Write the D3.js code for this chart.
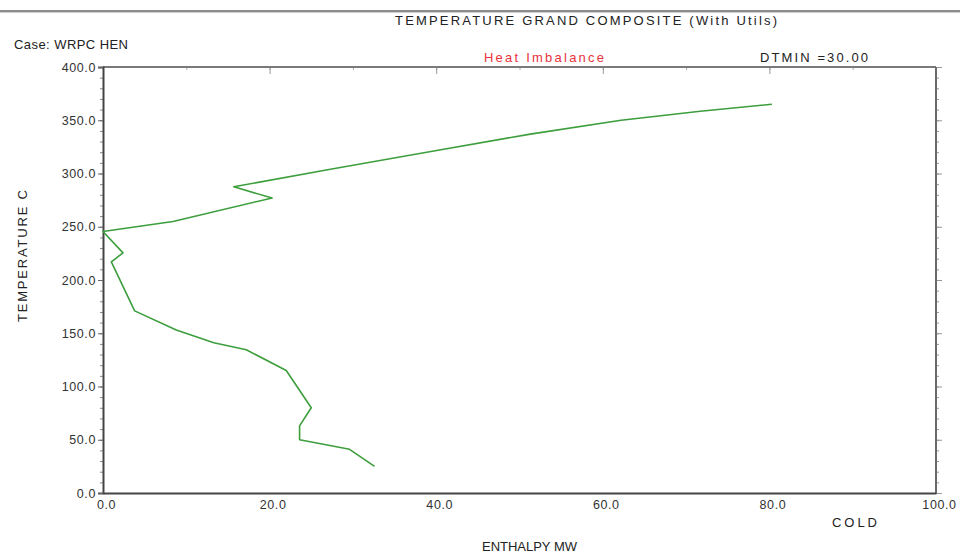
<!DOCTYPE html>
<html>
<head>
<meta charset="utf-8">
<script src="https://cdn.jsdelivr.net/npm/d3@7"></script>
<style>
  html, body { margin: 0; padding: 0; background: #ffffff; }
  svg { display: block; font-family: "Liberation Sans", Arial, sans-serif; }
</style>
</head>
<body>
<svg id="chart" width="960" height="553"></svg>
<script>
// ---- data ----
const enthalpy    = [80.3, 71.7, 62.2, 51.3, 39.2, 27.3, 15.7, 20.3, 8.4, 0.0, 2.4, 1.0, 3.8, 8.8, 13.3, 17.2, 22.0, 25.0, 23.6, 23.6, 29.6, 32.6];
const temperature = [365, 358.5, 350, 337, 320.5, 304, 287.5, 277, 255, 245.5, 225.5, 217, 171, 153, 141, 134.5, 115, 80, 63, 50, 41, 25];
const yTicks = [0, 50, 100, 150, 200, 250, 300, 350, 400];
const xTicks = [0, 20, 40, 60, 80, 100];
const titleText = "TEMPERATURE GRAND COMPOSITE (With Utils)";
const caseText = "Case: WRPC HEN";
const imbalanceText = "Heat Imbalance";
const dtminText = "DTMIN =30.00";
const xLabel = "ENTHALPY MW";
const yLabel = "TEMPERATURE C";
const sideLabel = "COLD";

const svg = d3.select("#chart");
const L = 103, R = 936, T = 67, B = 493;
const x = d3.scaleLinear().domain([0, 100]).range([L, R]);
const y = d3.scaleLinear().domain([0, 400]).range([B, T]);
const fmt = d3.format(".1f");

// window-like top rule
svg.append("rect").attr("x", 0).attr("y", 10).attr("width", 960).attr("height", 2).attr("fill", "#8c8c8c");
svg.append("rect").attr("x", 0).attr("y", 12).attr("width", 960).attr("height", 1).attr("fill", "#cfcfcf");

// minor ticks
const minorY = d3.range(0, 401, 10);
const minorX = d3.range(0, 101, 10);
svg.append("g").attr("transform", `translate(${L},0)`)
  .call(d3.axisLeft(y).tickValues(minorY).tickSize(3).tickFormat(""))
  .call(g => g.select(".domain").remove())
  .call(g => g.selectAll("line").attr("stroke", "#888"));
svg.append("g").attr("transform", `translate(${R},0)`)
  .call(d3.axisRight(y).tickValues(minorY).tickSize(3).tickFormat(""))
  .call(g => g.select(".domain").remove())
  .call(g => g.selectAll("line").attr("stroke", "#999"));
svg.append("g").attr("transform", `translate(${R},0)`)
  .call(d3.axisRight(y).tickValues(yTicks).tickSize(6).tickFormat(""))
  .call(g => g.select(".domain").remove())
  .call(g => g.selectAll("line").attr("stroke", "#999"));
svg.append("g").attr("transform", `translate(0,${T})`)
  .call(d3.axisBottom(x).tickValues(minorX).tickSize(3).tickFormat(""))
  .call(g => g.select(".domain").remove())
  .call(g => g.selectAll("line").attr("stroke", "#aaa"));
svg.append("g").attr("transform", `translate(0,${T})`)
  .call(d3.axisBottom(x).tickValues(xTicks).tickSize(7).tickFormat(""))
  .call(g => g.select(".domain").remove())
  .call(g => g.selectAll("line").attr("stroke", "#999"));

// frame
svg.append("line").attr("x1", L).attr("x2", R).attr("y1", T).attr("y2", T).attr("stroke", "#7a7a7a").attr("stroke-width", 2);
svg.append("line").attr("x1", R).attr("x2", R).attr("y1", T).attr("y2", B).attr("stroke", "#6a6a6a").attr("stroke-width", 2);

// left axis
svg.append("g").attr("transform", `translate(${L},0)`)
  .call(d3.axisLeft(y).tickValues(yTicks).tickFormat(fmt).tickSize(5).tickPadding(2))
  .call(g => g.select(".domain").attr("stroke", "#444").attr("stroke-width", 2))
  .call(g => g.selectAll("line").attr("stroke", "#666"))
  .call(g => g.selectAll("text").attr("font-size", 12.5).attr("fill", "#333")
    .attr("letter-spacing", 0.6).attr("font-family", "Liberation Sans, Arial, sans-serif"));

// bottom axis
svg.append("g").attr("transform", `translate(0,${B})`)
  .call(d3.axisBottom(x).tickValues(xTicks).tickFormat(fmt).tickSize(0).tickPadding(7))
  .call(g => g.select(".domain").attr("stroke", "#444").attr("stroke-width", 2))
  .call(g => g.selectAll("text").attr("font-size", 12.5).attr("fill", "#333")
    .attr("letter-spacing", 0.6).attr("dx", 3).attr("font-family", "Liberation Sans, Arial, sans-serif"));

// texts
function label(txt, xx, yy, opts) {
  const t = svg.append("text").attr("x", xx).attr("y", yy).text(txt)
    .attr("font-size", opts.size || 13).attr("fill", opts.fill || "#222");
  if (opts.anchor) t.attr("text-anchor", opts.anchor);
  if (opts.len) t.attr("textLength", opts.len).attr("lengthAdjust", "spacing");
  if (opts.rotate) t.attr("transform", `rotate(-90,${xx},${yy})`);
  return t;
}
label(titleText, 395, 25, {len: 382});
label(caseText, 14, 49, {len: 114});
label(imbalanceText, 484, 62, {len: 120, fill: "#e8323c"});
label(dtminText, 760, 62, {len: 108});
label(sideLabel, 832, 527, {len: 45});
label(xLabel, 482, 551, {len: 95});
label(yLabel, 27, 322, {len: 132, rotate: true});

// curve
const pts = enthalpy.map((h, i) => [h, temperature[i]]);
svg.append("path")
  .datum(pts)
  .attr("fill", "none")
  .attr("stroke", "#3d9e3d")
  .attr("stroke-width", 1.6)
  .attr("stroke-linejoin", "round")
  .attr("d", d3.line().x(d => x(d[0])).y(d => y(d[1])));
</script>
</body>
</html>
